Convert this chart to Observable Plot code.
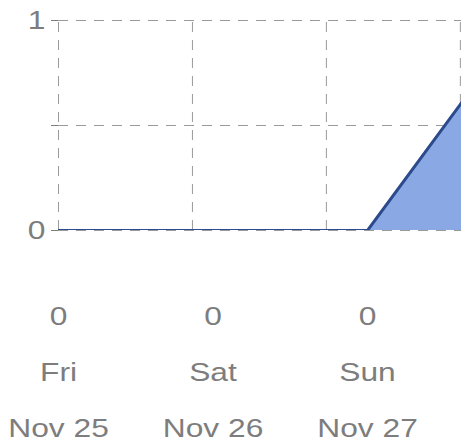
<!DOCTYPE html>
<html>
<head>
<meta charset="utf-8">
<script src="https://cdn.jsdelivr.net/npm/d3@7"></script>
<script src="https://cdn.jsdelivr.net/npm/@observablehq/plot@0.6"></script>
<style>
  html, body { margin: 0; padding: 0; overflow: hidden; background: #fff; }
  #chart { width: 461px; height: 446px; overflow: hidden; }
  #chart svg { max-width: none !important; width: 600px; height: 446px; }
</style>
</head>
<body>
<div id="chart"></div>
<script>
// Data
const dates = ["2022-11-25", "2022-11-26", "2022-11-27", "2022-11-28"];
const values = [0, 0, 0, 1];
const weekdays = ["Fri", "Sat", "Sun", "Mon"];
const dateLabels = ["Nov 25", "Nov 26", "Nov 27", "Nov 28"];
const yTicks = [0, 0.5, 1];

const data = dates.map((d, i) => ({
  date: new Date(d + "T00:00:00Z"),
  value: values[i],
  weekday: weekdays[i],
  label: dateLabels[i]
}));

const start = data[0].date.getTime();
const end = data[data.length - 1].date.getTime();
const DAY = 864e5;
// vertical grid lines are evenly spread, independent of the data points
const gridStep = 0.867 * DAY;
const gridDates = d3.range(4).map(i => new Date(start + i * gridStep));

const gridColor = "#9a9a9a";
const textColor = "#7d7d7d";
const VIEW_W = 461;

const W = 600, H = 446;
const chart = Plot.plot({
  width: W,
  height: H,
  marginLeft: 58,
  marginRight: 78.5,
  marginTop: 20,
  marginBottom: 216,
  style: {
    fontFamily: "'Liberation Sans', Arial, sans-serif",
    fontSize: "25px",
    color: textColor,
    background: "#fff",
    overflow: "visible",
    maxWidth: "none"
  },
  x: { type: "utc", domain: [new Date(start), new Date(end)], axis: null },
  y: {
    domain: [0, 1],
    ticks: yTicks,
    tickFormat: d => (d === 0.5 ? "" : d3.format("d")(d)),
    tickSize: 7,
    tickPadding: 6,
    label: null
  },
  marks: [
    Plot.ruleY(yTicks, { stroke: gridColor, strokeWidth: 1, strokeDasharray: "10,8" }),
    Plot.ruleX(gridDates, { stroke: gridColor, strokeWidth: 1, strokeDasharray: "10,8", y1: 0, y2: 1 }),
    Plot.areaY(data, { x: "date", y: "value", fill: "#8aa8e3", clip: true }),
    Plot.lineY(data, { x: "date", y: "value", stroke: "#2c4b8d", strokeWidth: 3, clip: true }),
    Plot.text(data, { x: "date", text: d => String(d.value), frameAnchor: "bottom", lineAnchor: "middle", dy: 86, fill: textColor }),
    Plot.text(data, { x: "date", text: "weekday", frameAnchor: "bottom", lineAnchor: "middle", dy: 142, fill: textColor }),
    Plot.text(data, { x: "date", text: "label", frameAnchor: "bottom", lineAnchor: "middle", dy: 198, fill: textColor })
  ]
});

document.getElementById("chart").appendChild(chart);

// widen glyphs horizontally to match the reference's wide lettering
const SX = 1.27;
chart.querySelectorAll("text").forEach(t => {
  if (!t.textContent.trim()) return;
  const bb = t.getBBox();
  const anchor = window.getComputedStyle(t).textAnchor;
  const ox = anchor === "end" ? bb.x + bb.width : anchor === "start" ? bb.x : bb.x + bb.width / 2;
  const prev = t.getAttribute("transform") || "";
  t.setAttribute("transform", `${prev} translate(${ox},0) scale(${SX},1) translate(${-ox},0)`.trim());
});
// labels that fall entirely outside the visible window are not shown (as in the reference)
const svgLeft = chart.getBoundingClientRect().left;
chart.querySelectorAll("text").forEach(t => {
  const r = t.getBoundingClientRect();
  if (r.width > 0 && r.left - svgLeft >= VIEW_W - 1) t.remove();
});
</script>
</body>
</html>
